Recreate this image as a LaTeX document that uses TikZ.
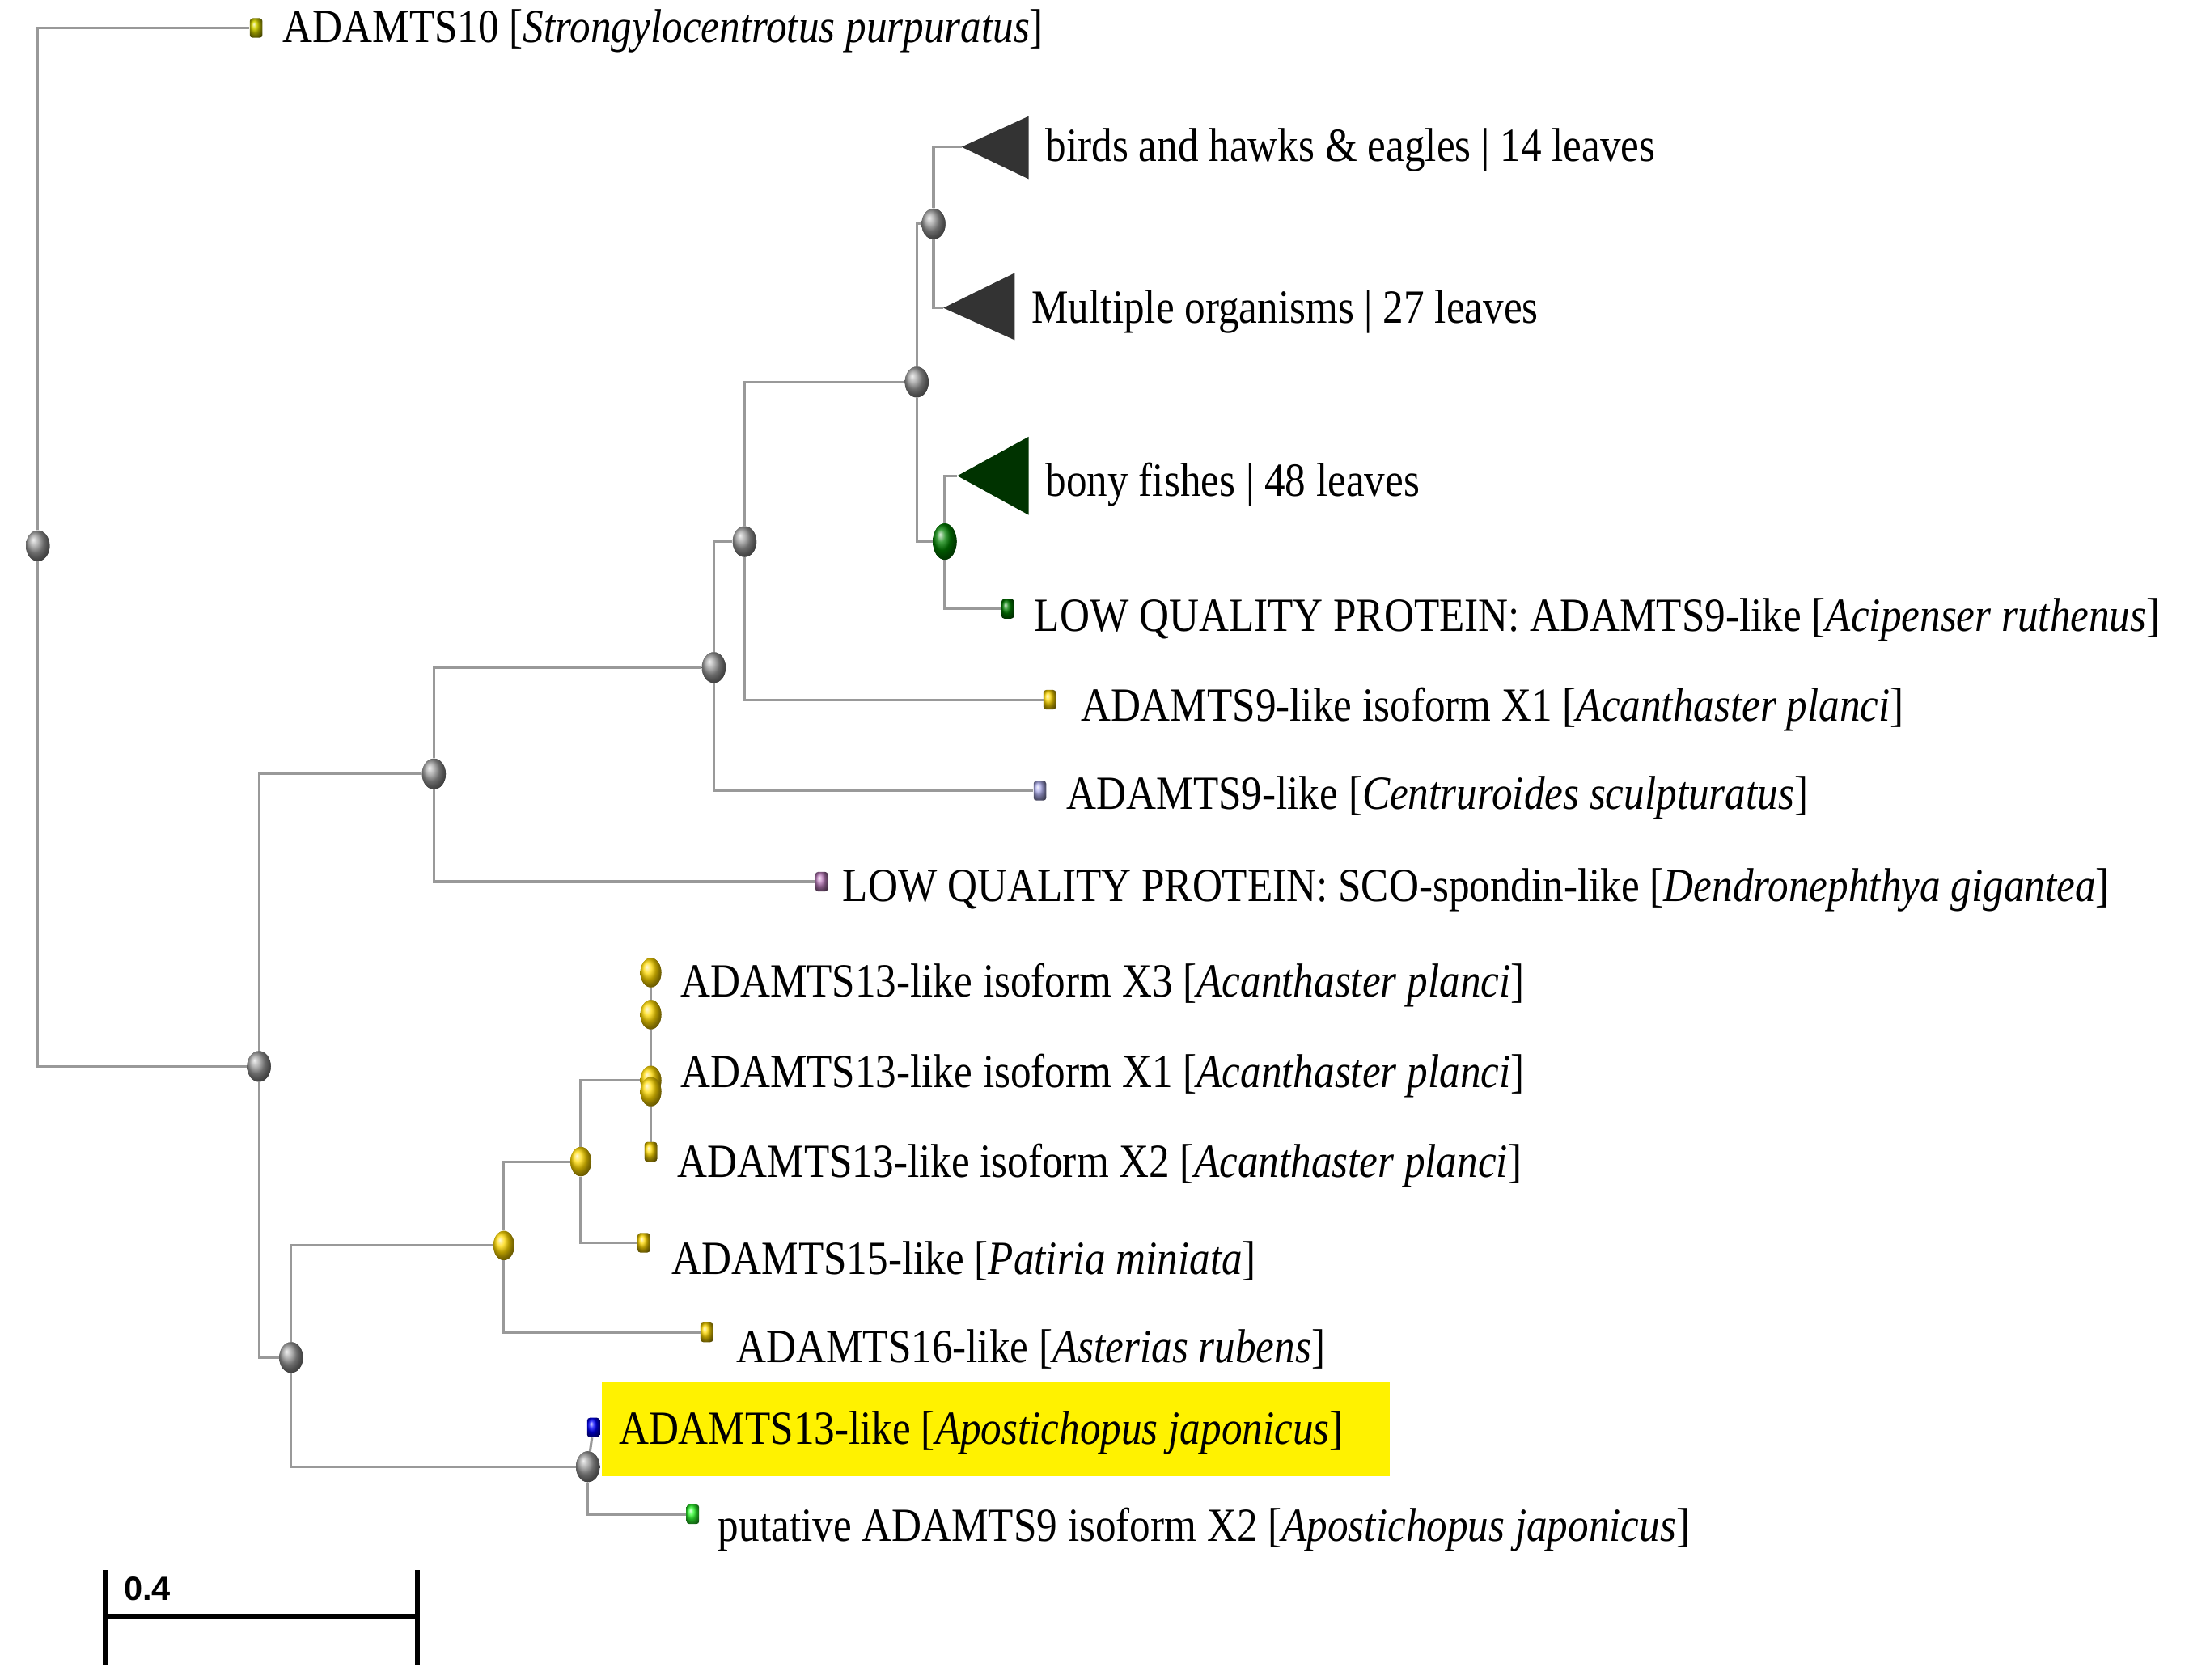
\documentclass[tikz,border=0pt]{standalone}
\usepackage{fontspec}
\usetikzlibrary{shapes.geometric}
\setmainfont{Liberation Serif}[FakeStretch=0.87]
\newfontfamily\sansf{Liberation Sans}
\begin{document}
\begin{tikzpicture}[x=1pt,y=-1pt,
  br/.style={draw=gray!80,line width=1.8pt},
  gn/.style={ellipse,minimum width=17,minimum height=22,inner sep=0,ball color=gray!80},
  yn/.style={ellipse,minimum width=15,minimum height=21,inner sep=0,ball color=yellow!70!orange},
  lf/.style={rectangle,rounded corners=2,minimum width=9,minimum height=14,inner sep=0},
  lb/.style={anchor=west,font=\fontsize{34}{34}\selectfont,inner sep=2},
  tri/.style={fill=#1,draw=none}]
\useasboundingbox (0,0) rectangle (1564,1200);
% nodes
\node[gn] (R) at (27,390) {};
\node[gn] (A) at (185,762) {};
\node[gn] (B) at (310,553) {};
\node[gn] (C) at (510,477) {};
\node[gn] (D) at (532,387) {};
\node[gn] (E) at (655,273) {};
\node[gn] (F) at (667,160) {};
\node[ellipse,minimum width=17,minimum height=26,inner sep=0,ball color=green!50!black] (G) at (675,387) {};
\node[gn] (H) at (208,970) {};
\node[yn] (I) at (360,890) {};
\node[yn] (J) at (415,830) {};
\node[yn] (K) at (465,772) {};
\node[gn] (L) at (420,1048) {};
% leaves
\node[lf,ball color=yellow!60!olive] (l1) at (183,20) {};
\coordinate (t1) at (687,105);
\coordinate (t2) at (674,220);
\coordinate (t3) at (684,340);
\node[lf,ball color=green!50!black] (l2) at (720,435) {};
\node[lf,ball color=yellow!70!orange] (l3) at (750,500) {};
\node[lf,ball color=gray!40!blue!40] (l4) at (743,565) {};
\node[lf,ball color=violet!50] (l5) at (587,630) {};
\node[yn] (k1) at (465,695) {};
\node[yn] (k2) at (465,725) {};
\node[yn] (k3) at (465,780) {};
\node[lf,ball color=yellow!70!orange] (k4) at (465,823) {};
\node[lf,ball color=yellow!70!orange] (l6) at (460,888) {};
\node[lf,ball color=yellow!70!orange] (l7) at (505,952) {};
\node[lf,ball color=blue] (l8) at (424,1020) {};
\node[lf,ball color=green!80] (l9) at (495,1082) {};
% branches
\draw[br] (R) |- (l1); \draw[br] (R) |- (A);
\draw[br] (A) |- (B); \draw[br] (A) |- (H);
\draw[br] (B) |- (C); \draw[br] (B) |- (l5);
\draw[br] (C) |- (D); \draw[br] (C) |- (l4);
\draw[br] (D) |- (E); \draw[br] (D) |- (l3);
\draw[br] (E) |- (F); \draw[br] (E) |- (G);
\draw[br] (F) |- (t1); \draw[br] (F) |- (t2);
\draw[br] (G) |- (t3); \draw[br] (G) |- (l2);
\draw[br] (H) |- (I); \draw[br] (H) |- (L);
\draw[br] (I) |- (J); \draw[br] (I) |- (l7);
\draw[br] (J) |- (K); \draw[br] (J) |- (l6);
\draw[br] (k1) -- (k4);
\draw[br] (L) -- (l8); \draw[br] (L) |- (l9);
% redraw nodes on top
\node[gn] at (R) {};\node[gn] at (A) {};\node[gn] at (B) {};\node[gn] at (C) {};
\node[gn] at (D) {};\node[gn] at (E) {};\node[gn] at (F) {};\node[gn] at (H) {};\node[gn] at (L) {};
\node[ellipse,minimum width=17,minimum height=26,inner sep=0,ball color=green!50!black] at (G) {};
\node[yn] at (I) {};\node[yn] at (J) {};\node[yn] at (k1) {};\node[yn] at (k2) {};\node[yn] at (K) {};\node[yn] at (k3) {};
\node[lf,ball color=yellow!70!orange] at (k4) {};
% triangles
\fill[tri=black!80] (t1) -- (735,83) -- (735,128) -- cycle;
\fill[tri=black!80] (t2) -- (725,195) -- (725,243) -- cycle;
\fill[tri=green!20!black] (t3) -- (735,312) -- (735,368) -- cycle;
% highlight
\fill[yellow] (430,988) rectangle (993,1055);
% labels
\node[lb] at (200,22) {ADAMTS10 [\textit{Strongylocentrotus purpuratus}]};
\node[lb] at (745,107) {birds and hawks \& eagles | 14 leaves};
\node[lb] at (735,223) {Multiple organisms | 27 leaves};
\node[lb] at (745,346) {bony fishes | 48 leaves};
\node[lb] at (737,443) {LOW QUALITY PROTEIN: ADAMTS9-like [\textit{Acipenser ruthenus}]};
\node[lb] at (770,507) {ADAMTS9-like isoform X1 [\textit{Acanthaster planci}]};
\node[lb] at (760,570) {ADAMTS9-like [\textit{Centruroides sculpturatus}]};
\node[lb] at (600,636) {LOW QUALITY PROTEIN: SCO-spondin-like [\textit{Dendronephthya gigantea}]};
\node[lb] at (484,704) {ADAMTS13-like isoform X3 [\textit{Acanthaster planci}]};
\node[lb] at (484,769) {ADAMTS13-like isoform X1 [\textit{Acanthaster planci}]};
\node[lb] at (482,833) {ADAMTS13-like isoform X2 [\textit{Acanthaster planci}]};
\node[lb] at (478,901) {ADAMTS15-like [\textit{Patiria miniata}]};
\node[lb] at (524,964) {ADAMTS16-like [\textit{Asterias rubens}]};
\node[lb] at (440,1024) {ADAMTS13-like [\textit{Apostichopus japonicus}]};
\node[lb] at (511,1093) {putative ADAMTS9 isoform X2 [\textit{Apostichopus japonicus}]};
% scale bar
\coordinate (s1) at (75,1155); \coordinate (s2) at (298,1155);
\draw[line width=3.5pt] (s1) -- (s2);
\draw[line width=3.5pt] (75,1122) -- (75,1190);
\draw[line width=3.5pt] (298,1122) -- (298,1190);
\node[anchor=west,font=\sansf\bfseries\fontsize{24}{24}\selectfont] at (85,1135) {0.4};
\end{tikzpicture}
\end{document}
